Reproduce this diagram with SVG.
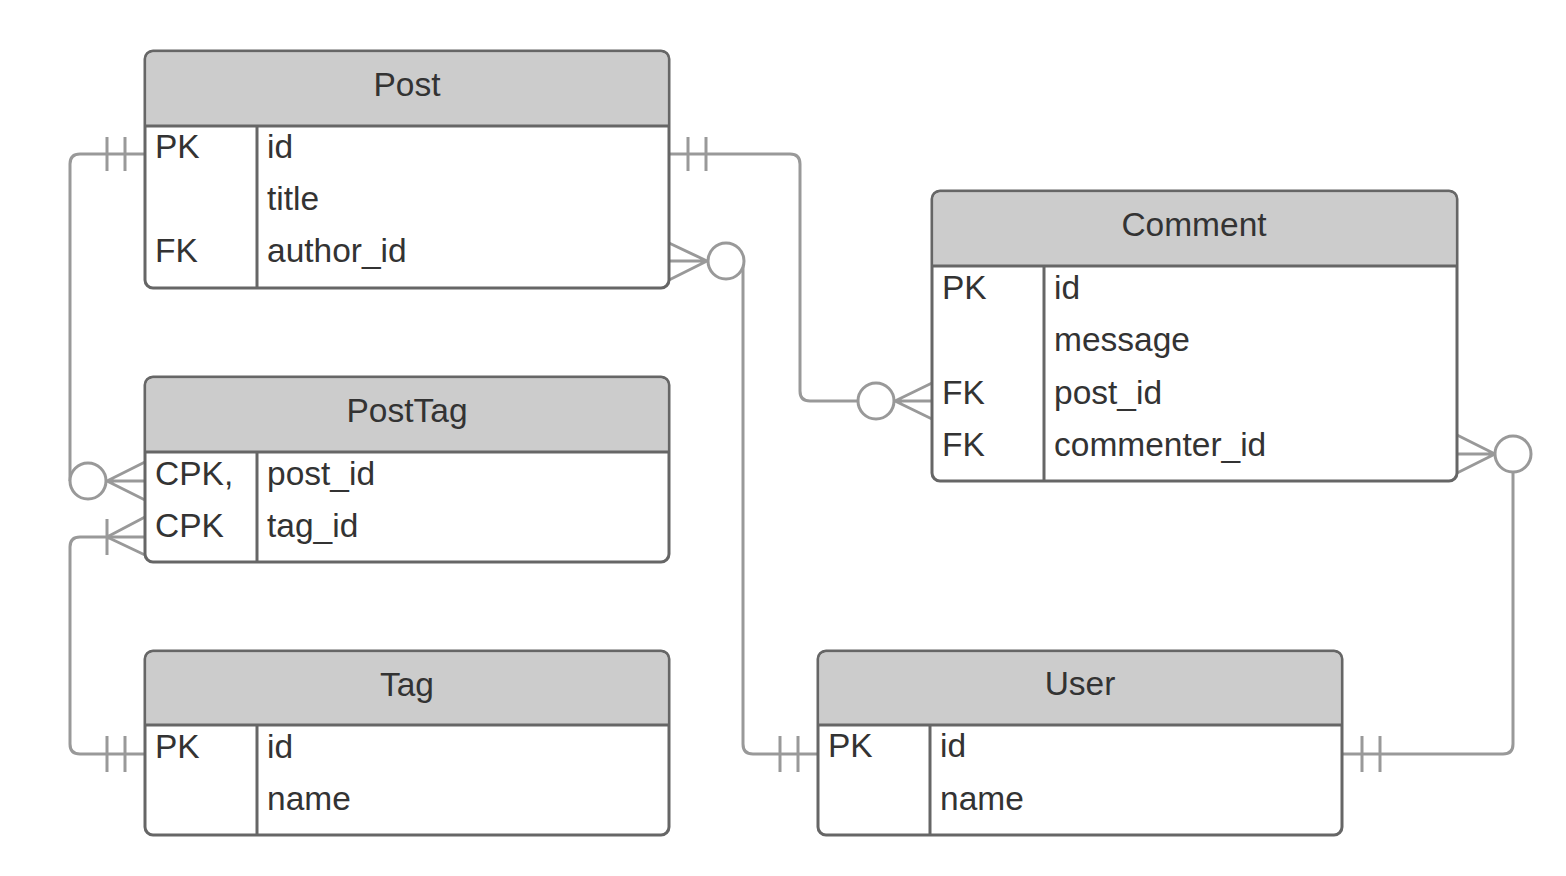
<svg xmlns="http://www.w3.org/2000/svg" width="1566" height="876" viewBox="0 0 1566 876">
<defs>
<style>
.box{fill:#fff;stroke:#666;stroke-width:3}
.hd{fill:#ccc;stroke:none}
.ln{stroke:#666;stroke-width:3;fill:none}
.t{font-family:"Liberation Sans",Arial,sans-serif;font-size:33.5px;fill:#333}
.h{text-anchor:middle}
.c{fill:none;stroke:#999;stroke-width:3;stroke-linejoin:round}
.o{fill:#fff;stroke:#999;stroke-width:3}
</style>
</defs>
<rect width="1566" height="876" fill="#fff"/>
<g id="connectors">
<path class="c" d="M145,154 H80 Q70,154 70,164 V481"/>
<path class="c" d="M107,137 V171 M125,137 V171"/>
<path class="c" d="M145,462 L107,481 L145,500 M107,481 H145"/>
<circle class="o" cx="88" cy="481" r="18"/>
<path class="c" d="M145,754 H80 Q70,754 70,744 V547 Q70,537 80,537 H145"/>
<path class="c" d="M107,736 V772 M125,736 V772"/>
<path class="c" d="M145,517 L107,537 L145,555 M107,519 V555"/>
<path class="c" d="M669,154 H790 Q800,154 800,164 V391 Q800,401 810,401 H858"/>
<path class="c" d="M688,137 V171 M706,137 V171"/>
<path class="c" d="M932,383 L895,401 L932,419 M895,401 H932"/>
<circle class="o" cx="876" cy="401" r="18"/>
<path class="c" d="M743,262 V744 Q743,754 753,754 H818"/>
<path class="c" d="M780,736 V772 M798,736 V772"/>
<path class="c" d="M669,243 L707,261 L669,280 M669,261 H707"/>
<circle class="o" cx="726" cy="261" r="18"/>
<path class="c" d="M1342,754 H1503 Q1513,754 1513,744 V454"/>
<path class="c" d="M1362,736 V772 M1380,736 V772"/>
<path class="c" d="M1457,435 L1495,454 L1457,473 M1457,454 H1495"/>
<circle class="o" cx="1513" cy="454" r="18"/>
</g>
<g id="post">
<rect class="box" x="145" y="51" width="524" height="237" rx="8"/>
<path class="hd" d="M146.5,126 V59 Q146.5,52.5 153,52.5 H661 Q667.5,52.5 667.5,59 V126 Z"/>
<path class="ln" d="M145,126 H669 M257,126 V288"/>
<text class="t h" x="407" y="96">Post</text>
<text class="t" x="155" y="158">PK</text><text class="t" x="267" y="158">id</text>
<text class="t" x="267" y="210">title</text>
<text class="t" x="155" y="262">FK</text><text class="t" x="267" y="262">author_id</text>
</g>
<g id="posttag">
<rect class="box" x="145" y="377" width="524" height="185" rx="8"/>
<path class="hd" d="M146.5,452 V385 Q146.5,378.5 153,378.5 H661 Q667.5,378.5 667.5,385 V452 Z"/>
<path class="ln" d="M145,452 H669 M257,452 V562"/>
<text class="t h" x="407" y="422">PostTag</text>
<text class="t" x="155" y="485">CPK,</text><text class="t" x="267" y="485">post_id</text>
<text class="t" x="155" y="537">CPK</text><text class="t" x="267" y="537">tag_id</text>
</g>
<g id="tag">
<rect class="box" x="145" y="651" width="524" height="184" rx="8"/>
<path class="hd" d="M146.5,725 V659 Q146.5,652.5 153,652.5 H661 Q667.5,652.5 667.5,659 V725 Z"/>
<path class="ln" d="M145,725 H669 M257,725 V835"/>
<text class="t h" x="407" y="696">Tag</text>
<text class="t" x="155" y="758">PK</text><text class="t" x="267" y="758">id</text>
<text class="t" x="267" y="810">name</text>
</g>
<g id="comment">
<rect class="box" x="932" y="191" width="525" height="290" rx="8"/>
<path class="hd" d="M933.5,266 V199 Q933.5,192.5 940,192.5 H1449 Q1455.5,192.5 1455.5,199 V266 Z"/>
<path class="ln" d="M932,266 H1457 M1044,266 V481"/>
<text class="t h" x="1194" y="236">Comment</text>
<text class="t" x="942" y="299">PK</text><text class="t" x="1054" y="299">id</text>
<text class="t" x="1054" y="351">message</text>
<text class="t" x="942" y="404">FK</text><text class="t" x="1054" y="404">post_id</text>
<text class="t" x="942" y="456">FK</text><text class="t" x="1054" y="456">commenter_id</text>
</g>
<g id="user">
<rect class="box" x="818" y="651" width="524" height="184" rx="8"/>
<path class="hd" d="M819.5,725 V659 Q819.5,652.5 826,652.5 H1334 Q1340.5,652.5 1340.5,659 V725 Z"/>
<path class="ln" d="M818,725 H1342 M930,725 V835"/>
<text class="t h" x="1080" y="695">User</text>
<text class="t" x="828" y="757">PK</text><text class="t" x="940" y="757">id</text>
<text class="t" x="940" y="810">name</text>
</g>
</svg>
